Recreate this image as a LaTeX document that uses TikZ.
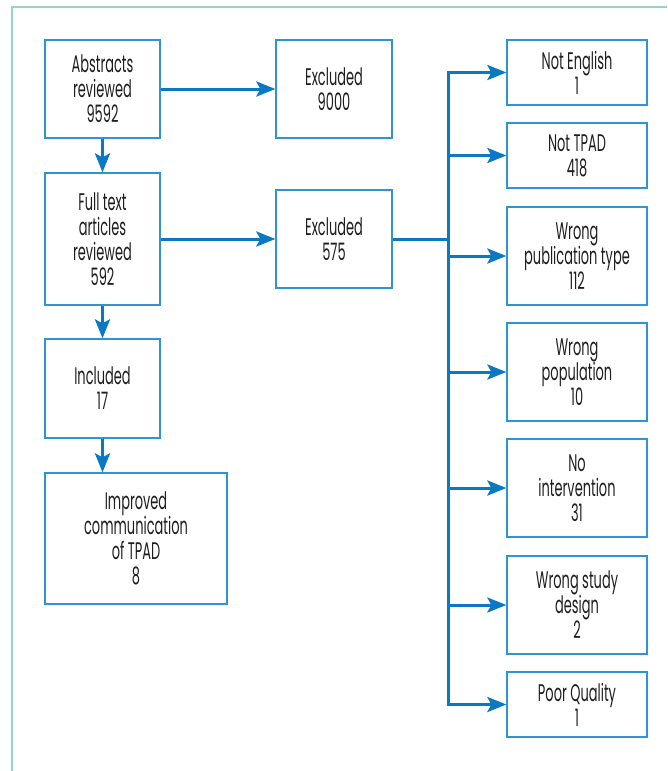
\documentclass[tikz,border=0pt]{standalone}
\usepackage{fontspec}
\setmainfont{Poppins}[FakeStretch=0.54]
\usepackage{tikz}
\usetikzlibrary{arrows.meta}

\definecolor{boxblue}{RGB}{45,150,210}
\definecolor{arrblue}{RGB}{10,120,195}
\definecolor{framegreen}{RGB}{150,215,195}
\definecolor{txtgray}{RGB}{30,30,30}

\begin{document}
\begin{tikzpicture}[x=1pt, y=-1pt,
	every node/.style={font=\fontsize{24}{25}\selectfont, text=txtgray, align=center, inner sep=0pt},
	box/.style={draw=boxblue, line width=1.3pt, minimum width=#1},
	box/.default=115pt,
	conn/.style={arrblue, line width=3pt},
	>={Stealth[length=19pt, width=15pt, inset=4pt]}]
	\useasboundingbox (0,0) rectangle (667,771);
	\draw[framegreen, line width=2pt] (12,771) -- (12,7) -- (667,7);
	% left column
	\node[box, minimum height=98pt] (abs) at (102.5,89) {Abstracts\\reviewed\\9592};
	\node[box, minimum height=132pt] (full) at (102.5,239) {Full text\\articles\\reviewed\\592};
	\node[box, minimum height=99pt] (incl) at (102.5,388.5) {Included\\17};
	\node[box=182pt, minimum height=131pt] (impr) at (136,538.5) {Improved\\communication\\of TPAD\\8};
	% excluded
	\node[box=116pt, minimum height=98pt] (exA) at (334,89) {Excluded\\9000};
	\node[box=116pt, minimum height=98pt] (exB) at (334,239) {Excluded\\575};
	% reasons
	\node[box=140pt, minimum height=65pt] (notEng) at (577,72.5) {Not English\\1};
	\node[box=140pt, minimum height=65pt] (notTPAD) at (577,155.5) {Not TPAD\\418};
	\node[box=140pt, minimum height=98pt] (wrongPub) at (577,256) {Wrong\\publication type\\112};
	\node[box=140pt, minimum height=98pt] (wrongPop) at (577,372) {Wrong\\population\\10};
	\node[box=140pt, minimum height=98pt] (noInt) at (577,488) {No\\intervention\\31};
	\node[box=140pt, minimum height=98pt] (wrongDes) at (577,605) {Wrong study\\design\\2};
	\node[box=140pt, minimum height=65pt] (poor) at (577,704.5) {Poor Quality\\1};
	\coordinate (trunk) at (448,239);

	\draw[conn, ->] (abs) -- (exA);
	\draw[conn, ->] (abs) -- (full);
	\draw[conn, ->] (full) -- (exB);
	\draw[conn, ->] (full) -- (incl);
	\draw[conn, ->] (incl.south) -- (incl.south |- impr.north);
	\draw[conn] (exB.east) -- (trunk);
	\draw[conn, line cap=rect] (notEng.west -| trunk) -- (poor.west -| trunk);
	\foreach \r in {notEng, notTPAD, wrongPub, wrongPop, noInt, wrongDes, poor}
		\draw[conn, ->] (\r.west -| trunk) -- (\r.west);
\end{tikzpicture}
\end{document}
